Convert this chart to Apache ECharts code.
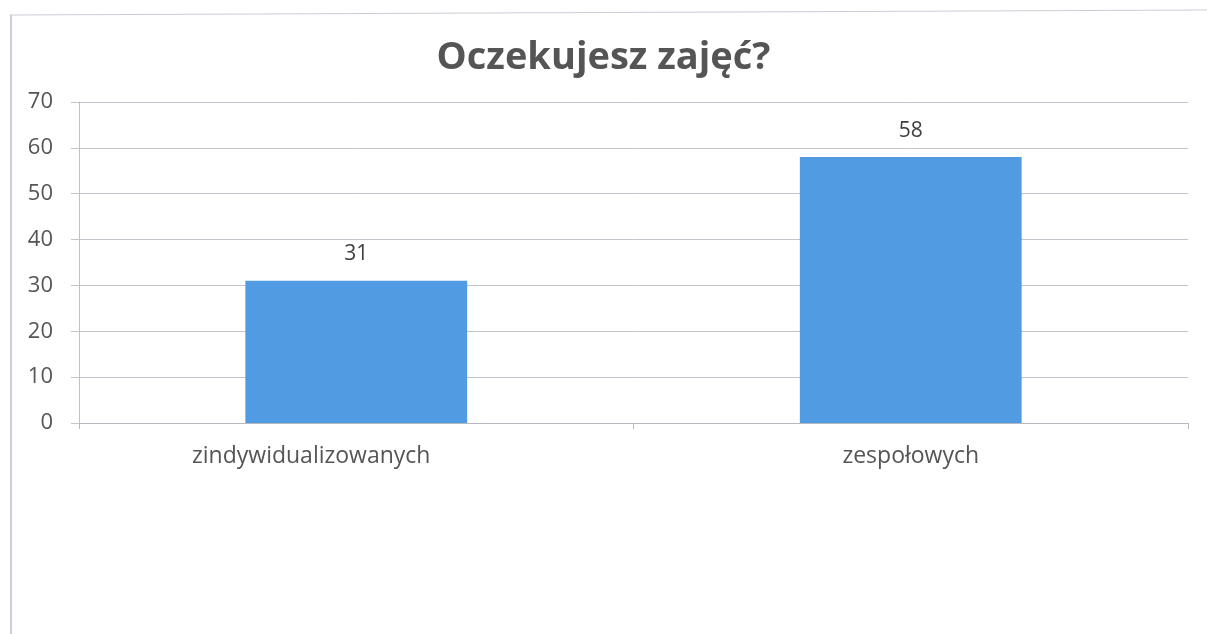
<!DOCTYPE html>
<html>
<head>
<meta charset="utf-8">
<script src="https://cdn.jsdelivr.net/npm/echarts@6/dist/echarts.min.js"></script>
<style>html,body{margin:0;padding:0;background:#fff;}#c{width:1207px;height:634px;}</style>
</head>
<body>
<div id="c"></div>
<script>
const title = 'Oczekujesz zajęć?';
const categories = ['zindywidualizowanych', 'zespołowych'];
const values = [31, 58];
const yTicks = [0, 10, 20, 30, 40, 50, 60, 70];

// the first category label sits left of its bar in the reference
const labelPads = [[0, 90, 0, 0], [0, 0, 0, 0]];
const categoryData = categories.map((c, i) => ({ value: c, textStyle: { padding: labelPads[i] } }));

const chart = echarts.init(document.getElementById('c'));
chart.setOption({
  backgroundColor: '#ffffff',
  animation: false,
  title: {
    text: title,
    left: 'center',
    top: 34,
    textStyle: { fontFamily: 'Open Sans', fontWeight: 'bold', fontSize: 38, color: '#555555' }
  },
  graphic: [
    { type: 'line', shape: { x1: 10, y1: 15, x2: 1207, y2: 10 }, style: { stroke: '#c9cdd8', lineWidth: 1 } },
    { type: 'line', shape: { x1: 11, y1: 15, x2: 11, y2: 634 }, style: { stroke: '#b9bfcf', lineWidth: 1.5 } }
  ],
  grid: { left: 79, right: 19, top: 102, bottom: 211, containLabel: false },
  xAxis: {
    type: 'category',
    data: categoryData,
    axisLine: { show: true, lineStyle: { color: '#b8b8c0', width: 1 } },
    axisTick: { show: true, alignWithLabel: false, length: 6, lineStyle: { color: '#b8b8c0' } },
    axisLabel: { fontFamily: 'Open Sans', fontSize: 23, color: '#555555', margin: 22 }
  },
  yAxis: {
    type: 'value',
    min: yTicks[0],
    max: yTicks[yTicks.length - 1],
    interval: 10,
    axisLine: { show: true, lineStyle: { color: '#c0c0c8', width: 1 } },
    axisTick: { show: true, length: 8, lineStyle: { color: '#c3c3cc' } },
    splitLine: { show: true, lineStyle: { color: '#c3c3cc', width: 1 } },
    axisLabel: { fontFamily: 'Open Sans', fontSize: 22, color: '#555555', margin: 26 }
  },
  series: [{
    type: 'bar',
    data: values,
    barWidth: '40%',
    itemStyle: { color: '#519be2' },
    label: {
      show: true,
      position: 'top',
      distance: 16,
      fontFamily: 'Open Sans',
      fontSize: 21,
      color: '#404040'
    }
  }]
});
</script>
</body>
</html>
